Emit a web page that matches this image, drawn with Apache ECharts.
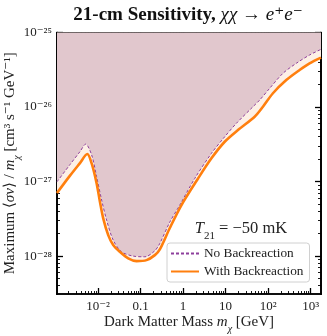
<!DOCTYPE html>
<html lang="en">
<head>
    <meta charset="UTF-8">
    <title>21-cm Sensitivity</title>
    <script src="https://cdn.jsdelivr.net/npm/echarts@6/dist/echarts.min.js"></script>
    <style>
        body { margin: 0; background: #fff; }
    </style>
</head>
<body>
<div id="chartBox" style="width: 327px; height: 336px;"></div>
<script>
    // dark matter mass [GeV]
    var massNoBack = [1.084e-3, 2.19e-3, 3.76e-3, 5.12e-3, 7.08e-3, 9.27e-3, 1.215e-2, 1.592e-2, 2.27e-2, 3.58e-2,
        6.71e-2, 0.1262, 0.2167, 0.2838, 0.4874, 0.8367, 1.88, 4.64, 9.52, 17.9, 44.0, 63.2, 108.4, 222.6, 459, 942, 1750];
    // max <sigma v>/m_chi [cm^3 s^-1 GeV^-1], no backreaction
    var sigmaNoBack = [9.93e-28, 1.69e-27, 2.52e-27, 3.18e-27, 2.27e-27, 1.16e-27, 5.65e-28, 3.04e-28, 1.64e-28, 1.14e-28,
        1.0e-28, 9.79e-29, 1.18e-28, 1.48e-28, 2.86e-28, 4.84e-28, 1.10e-27, 2.39e-27, 3.99e-27, 6.04e-27, 1.01e-26,
        1.24e-26, 1.78e-26, 2.83e-26, 3.86e-26, 4.99e-26, 5.94e-26];

    var massBack = [1.084e-3, 2.19e-3, 3.76e-3, 5.58e-3, 7.08e-3, 9.27e-3, 1.108e-2, 1.324e-2, 1.735e-2, 2.27e-2,
        3.27e-2, 5.12e-2, 8.05e-2, 0.1383, 0.2167, 0.2838, 0.4874, 0.917, 2.25, 4.64, 9.52, 19.5, 48.2, 75.5, 129.7,
        267, 549, 942, 1750];
    // max <sigma v>/m_chi, with backreaction
    var sigmaBack = [7.02e-28, 1.20e-27, 1.77e-27, 2.34e-27, 1.75e-27, 9.46e-28, 5.36e-28, 3.21e-28, 1.91e-28, 1.41e-28,
        1.14e-28, 9.31e-29, 8.57e-29, 8.83e-29, 1.03e-28, 1.23e-28, 2.38e-28, 4.84e-28, 1.10e-27, 2.05e-27, 3.42e-27,
        4.91e-27, 7.41e-27, 1.01e-26, 1.53e-26, 2.30e-26, 3.14e-26, 3.86e-26, 4.61e-26];

    // tick positions
    var xMajor = [1e-2, 1e-1, 1, 10, 100, 1000];
    var yMajor = [1e-28, 1e-27, 1e-26, 1e-25];
    var xRange = [1.084e-3, 1750];
    var yRange = [3.1e-29, 1e-25];

    var seriesNames = ['No Backreaction', 'With Backreaction'];

    // echarts rounds tiny tick values to 0, so the y axis works in units of 1e-28
    var yExp = 28;
    var yScale = Math.pow(10, yExp);
    function sc(arr) {
        return arr.map(function (v) { return v * yScale; });
    }

    function minorTicks(range) {
        var out = [];
        var lo = Math.floor(Math.log10(range[0]) + 1e-9);
        var hi = Math.ceil(Math.log10(range[1]) - 1e-9);
        for (var e = lo; e < hi; e++) {
            for (var k = 2; k <= 9; k++) {
                var v = k * Math.pow(10, e);
                if (v > range[0] && v < range[1]) out.push(v);
            }
        }
        return out;
    }

    function pairs(xs, ys) {
        var res = [];
        for (var i = 0; i < xs.length; i++) {
            res.push([xs[i], ys[i] * yScale]);
        }
        return res;
    }

    var sup = {'-': '⁻', '0': '⁰', '1': '¹', '2': '²', '3': '³', '4': '⁴', '5': '⁵', '6': '⁶', '7': '⁷', '8': '⁸', '9': '⁹'};
    function powStr(e) {
        return '10' + String(e).split('').map(function (c) { return sup[c]; }).join('');
    }
    function xLabel(v) {
        var e = Math.round(Math.log10(v));
        if (e === -1) return '0.1';
        if (e === 0) return '1';
        if (e === 1) return '10';
        return powStr(e);
    }
    function yLabel(v) {
        return powStr(Math.round(Math.log10(v)) - yExp);
    }

    var serif = '"Liberation Serif", "DejaVu Serif", serif';
    var mathRich = {
        i: {fontFamily: serif, fontStyle: 'italic', fontSize: 15, lineHeight: 18},
        s: {fontFamily: serif, fontStyle: 'italic', fontSize: 10, lineHeight: 9, verticalAlign: 'bottom', padding: [0, 0, -3, 0]}
    };

    function makeAxis(type, pos, range, ticks, len, formatter, extra) {
        var ax = {
            type: 'log',
            logBase: 10,
            position: pos,
            min: range[0],
            max: range[1],
            axisLine: {show: true, lineStyle: {color: '#000', width: 1.7}},
            axisTick: {show: true, inside: true, length: len, customValues: ticks, lineStyle: {color: '#000', width: len > 4 ? 1.3 : 0.9}},
            axisLabel: {show: false},
            splitLine: {show: false},
            minorTick: {show: false}
        };
        if (formatter) {
            ax.axisLabel = {
                show: true,
                customValues: ticks,
                formatter: formatter,
                color: '#222',
                fontFamily: serif,
                fontSize: 13,
                margin: type === 'x' ? 6 : 5
            };
        }
        for (var k in extra) ax[k] = extra[k];
        return ax;
    }

    var yR = sc(yRange);
    var yM = sc(yMajor);

    var chart = echarts.init(document.getElementById('chartBox'));

    var option = {
        animation: false,
        backgroundColor: '#fff',
        grid: {left: 57, right: 6, top: 32.5, bottom: 42, containLabel: false, outerBoundsMode: 'none'},
        // position flips: 1st bottom, 2nd top, 3rd (bottom used) -> top, 4th (top used) -> bottom
        xAxis: [
            makeAxis('x', 'bottom', xRange, xMajor, 6, xLabel, {
                name: 'Dark Matter Mass {i|m}{s|χ} [GeV]',
                nameLocation: 'middle',
                nameGap: 19,
                nameMoveOverlap: false,
                nameTextStyle: {fontFamily: serif, fontSize: 15, color: '#222', rich: mathRich}
            }),
            makeAxis('x', 'top', xRange, xMajor, 6, null, {}),
            makeAxis('x', 'bottom', xRange, minorTicks(xRange), 3, null, {}),
            makeAxis('x', 'top', xRange, minorTicks(xRange), 3, null, {})
        ],
        yAxis: [
            makeAxis('y', 'left', yR, yM, 6, yLabel, {
                name: 'Maximum ⟨{i|σv}⟩ / {i|m}{s|χ} [cm³ s⁻¹ GeV⁻¹]',
                nameLocation: 'middle',
                nameGap: 38,
                nameMoveOverlap: false,
                nameRotate: 90,
                nameTextStyle: {fontFamily: serif, fontSize: 15, color: '#222', rich: mathRich}
            }),
            makeAxis('y', 'right', yR, yM, 6, null, {}),
            makeAxis('y', 'left', yR, minorTicks(yR), 3, null, {}),
            makeAxis('y', 'right', yR, minorTicks(yR), 3, null, {})
        ],
        legend: {
            data: seriesNames,
            orient: 'vertical',
            left: 167,
            top: 243,
            itemWidth: 28,
            itemHeight: 10,
            itemGap: 5,
            padding: [4, 6, 4, 3],
            backgroundColor: '#fff',
            borderColor: '#d0d0d0',
            borderWidth: 1,
            borderRadius: 3,
            itemStyle: {opacity: 0},
            textStyle: {fontFamily: serif, fontSize: 13.3, color: '#222'}
        },
        graphic: [
            {
                type: 'text',
                x: 188,
                y: 15,
                style: {
                    text: '{b|21-cm Sensitivity, }{m|χχ → e⁺e⁻}',
                    align: 'center',
                    verticalAlign: 'middle',
                    rich: {
                        b: {fontFamily: serif, fontWeight: 'bold', fontSize: 19, fill: '#111'},
                        m: {fontFamily: serif, fontStyle: 'italic', fontSize: 19, fill: '#111'}
                    }
                }
            },
            {
                type: 'text',
                x: 241,
                y: 229,
                z: 10,
                style: {
                    text: '{i|T}{s|21} = −50 mK',
                    align: 'center',
                    verticalAlign: 'middle',
                    fontFamily: serif,
                    fontSize: 16.5,
                    fill: '#222',
                    rich: {
                        i: {fontFamily: serif, fontStyle: 'italic', fontSize: 16.5, lineHeight: 19},
                        s: {fontFamily: serif, fontSize: 11, lineHeight: 9, verticalAlign: 'bottom', padding: [0, 0, -3, 0]}
                    }
                }
            }
        ],
        series: [
            {
                // cream band between the two curves
                type: 'line',
                data: pairs(massBack, sigmaBack),
                showSymbol: false,
                smooth: 0.3,
                silent: true,
                lineStyle: {width: 0},
                areaStyle: {origin: yR[1], color: '#fdf0e6', opacity: 1},
                z: 1
            },
            {
                type: 'line',
                data: pairs(massNoBack, sigmaNoBack),
                showSymbol: false,
                smooth: 0.3,
                silent: true,
                lineStyle: {width: 0},
                areaStyle: {origin: yR[1], color: '#e1c7cd', opacity: 1},
                z: 2
            },
            {
                name: seriesNames[0],
                type: 'line',
                data: pairs(massNoBack, sigmaNoBack),
                showSymbol: false,
                symbol: 'none',
                smooth: 0.3,
                lineStyle: {color: '#8e3f9c', width: 1, type: [3, 2]},
                itemStyle: {color: '#8e3f9c'},
                z: 3
            },
            {
                name: seriesNames[1],
                type: 'line',
                data: pairs(massBack, sigmaBack),
                showSymbol: false,
                symbol: 'none',
                smooth: 0.3,
                lineStyle: {color: '#ff7f0e', width: 2.6},
                itemStyle: {color: '#ff7f0e'},
                z: 4
            }
        ]
    };

    chart.setOption(option);
</script>
</body>
</html>
